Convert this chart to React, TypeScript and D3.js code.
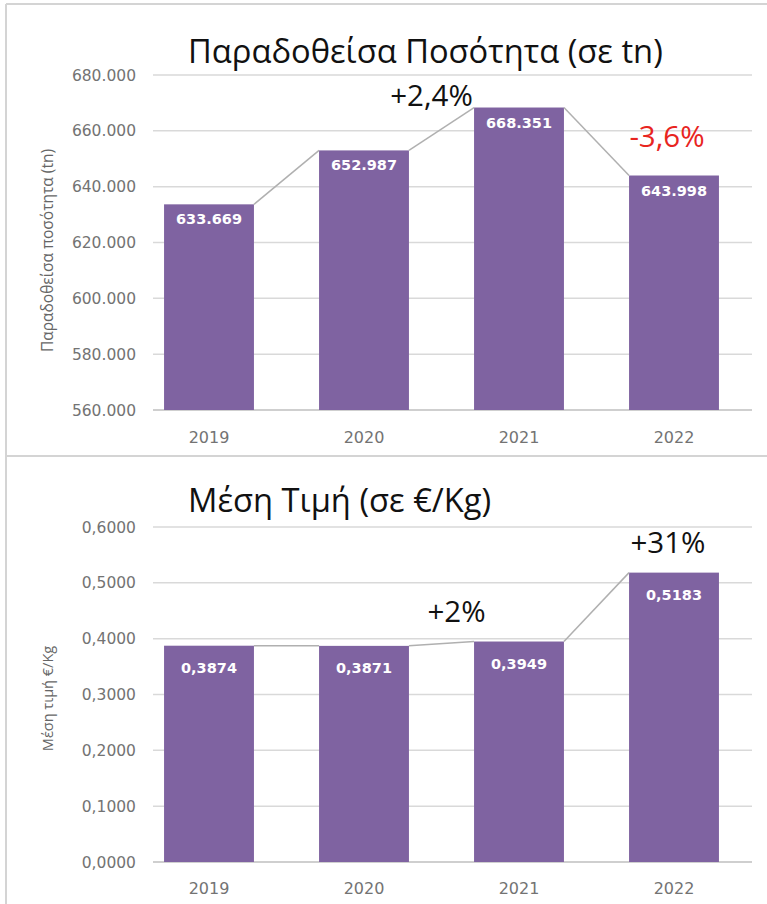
import * as d3 from "d3";
import React from "react";

const years = ["2019", "2020", "2021", "2022"];
const quantity = [633669, 652987, 668351, 643998];
const price = [0.3874, 0.3871, 0.3949, 0.5183];
const quantityTicks = [560000, 580000, 600000, 620000, 640000, 660000, 680000];
const priceTicks = [0, 0.1, 0.2, 0.3, 0.4, 0.5, 0.6];
const quantityNotes = ["+2,4%", "-3,6%"];
const priceNotes = ["+2%", "+31%"];

const W = 767;
const H = 904;
const gr = d3.formatLocale({ decimal: ",", thousands: ".", grouping: [3], currency: ["€", ""] });
const fmtThousands = gr.format(",");
const fmt4 = gr.format(".4f");

const purple = "#7f63a1";
const gridColor = "#d9d9d9";
const tickColor = "#737373";
const labelFont = "DejaVu Sans, Verdana, sans-serif";
const titleFont = "Open Sans, Noto Sans, sans-serif";

// 4 bands, ~155px step, ~90px bars
const x = d3.scaleBand<string>().domain(years).range([131.5, 751.5]).paddingInner(0.42).paddingOuter(0.21);

interface PanelProps {
  values: number[];
  ticks: number[];
  y: d3.ScaleLinear<number, number>;
  tickFmt: (v: number) => string;
  valFmt: (v: number) => string;
  title: string;
  titleY: number;
  axisTitle: string;
  axisTitleSize: number;
  axisTitleShift: number;
  yearY: number;
  labelDy: number;
  notes: { text: string; x: number; y: number; color: string }[];
}

function Panel(p: PanelProps) {
  const [y0, y1] = p.y.range();
  const bw = x.bandwidth();
  const mid = (y0 + y1) / 2 + p.axisTitleShift;
  return (
    <g>
      <text x={188} y={p.titleY} fontFamily={titleFont} fontSize={32.7} fill="#111">
        {p.title}
      </text>
      {p.ticks.map((t) => (
        <g key={t}>
          <line x1={153} x2={752} y1={p.y(t)} y2={p.y(t)} stroke={t === p.ticks[0] ? "#bfbfbf" : gridColor} strokeWidth={1.5} />
          <text x={136} y={p.y(t)} dy="0.36em" textAnchor="end" fontFamily={labelFont} fontSize={15.5} fill={tickColor}>
            {p.tickFmt(t)}
          </text>
        </g>
      ))}
      <text
        transform={`translate(53,${mid}) rotate(-90)`}
        textAnchor="middle"
        fontFamily={titleFont}
        fontSize={p.axisTitleSize}
        fill="#666"
      >
        {p.axisTitle}
      </text>
      {years.map((yr, i) => (
        <g key={yr}>
          <rect x={x(yr)} y={p.y(p.values[i])} width={bw} height={y0 - p.y(p.values[i])} fill={purple} />
          <text
            x={(x(yr) ?? 0) + bw / 2}
            y={p.y(p.values[i]) + p.labelDy}
            textAnchor="middle"
            fontFamily={labelFont}
            fontWeight="bold"
            fontSize={14.5}
            fill="#fff"
          >
            {p.valFmt(p.values[i])}
          </text>
          <text x={(x(yr) ?? 0) + bw / 2} y={p.yearY} textAnchor="middle" fontFamily={labelFont} fontSize={16} fill={tickColor}>
            {yr}
          </text>
          {i > 0 && (
            <line
              x1={(x(years[i - 1]) ?? 0) + bw}
              y1={p.y(p.values[i - 1])}
              x2={x(yr)}
              y2={p.y(p.values[i])}
              stroke="#b0b0b0"
              strokeWidth={1.5}
            />
          )}
        </g>
      ))}
      {p.notes.map((n) => (
        <text key={n.text} x={n.x} y={n.y} textAnchor="middle" fontFamily={titleFont} fontSize={29.5} fill={n.color}>
          {n.text}
        </text>
      ))}
    </g>
  );
}

export default function App() {
  const yTop = d3.scaleLinear().domain([560000, 680000]).range([410, 75]);
  const yBot = d3.scaleLinear().domain([0, 0.6]).range([862, 527]);
  const bw = x.bandwidth();
  const cx = (i: number) => (x(years[i]) ?? 0) + bw / 2;
  const between = (i: number) => (cx(i) + cx(i + 1)) / 2;

  const topNotes = [
    { text: quantityNotes[0], x: between(1) - 10, y: yTop(quantity[2]) - 2, color: "#111" },
    { text: quantityNotes[1], x: cx(3) - 7, y: yTop(quantity[3]) - 29, color: "#e8251f" },
  ];
  const botNotes = [
    { text: priceNotes[0], x: between(1) + 15, y: yBot(price[2]) - 20, color: "#111" },
    { text: priceNotes[1], x: cx(3) - 6, y: yBot(price[3]) - 20, color: "#111" },
  ];

  return (
    <svg width={W} height={H} style={{ position: "absolute", left: 0, top: 0, background: "#fff" }}>
      <line x1={6} x2={W} y1={4} y2={4} stroke="#d4d4d4" strokeWidth={2} />
      <line x1={6} x2={6} y1={4} y2={H} stroke="#d4d4d4" strokeWidth={2} />
      <line x1={6} x2={W} y1={456} y2={456} stroke="#d4d4d4" strokeWidth={2} />
      <Panel
        values={quantity}
        ticks={quantityTicks}
        y={yTop}
        tickFmt={fmtThousands}
        valFmt={fmtThousands}
        title="Παραδοθείσα Ποσότητα (σε tn)"
        titleY={63}
        axisTitle="Παραδοθείσα ποσότητα (tn)"
        axisTitleSize={15.5}
        axisTitleShift={8}
        yearY={443}
        labelDy={20}
        notes={topNotes}
      />
      <Panel
        values={price}
        ticks={priceTicks}
        y={yBot}
        tickFmt={fmt4}
        valFmt={fmt4}
        title="Μέση Τιμή (σε €/Kg)"
        titleY={512}
        axisTitle="Μέση τιμή €/Kg"
        axisTitleSize={14.5}
        axisTitleShift={4}
        yearY={894}
        labelDy={27}
        notes={botNotes}
      />
    </svg>
  );
}
